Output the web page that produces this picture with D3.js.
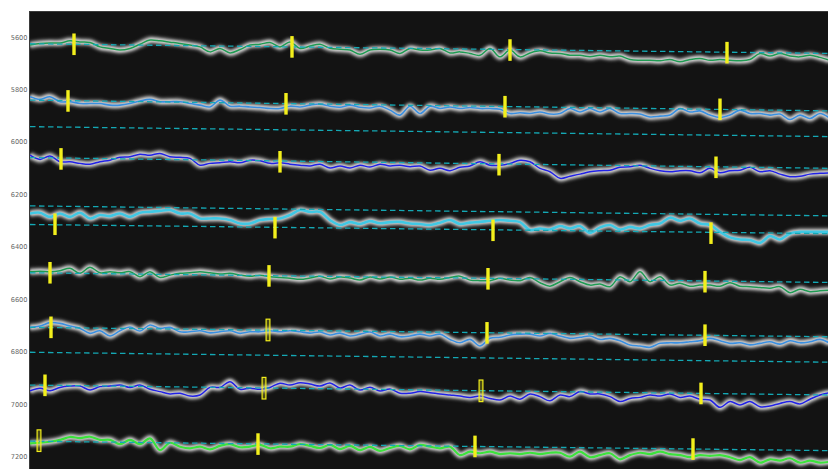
<!DOCTYPE html>
<html><head><meta charset="utf-8">
<script src="https://cdn.jsdelivr.net/npm/d3@7"></script>
<style>html,body{margin:0;padding:0;background:#fff;} svg{display:block;}</style>
</head><body>
<svg id="chart" width="828" height="469"></svg>
<script>
// ---- data ----
const columns = d3.range(0, 801, 10); // image columns sampled
const trace1 = [5631,5625,5623,5623,5615,5619,5621,5638,5644,5650,5644,5628,5612,5615,5620,5625,5631,5638,5657,5644,5661,5648,5631,5628,5621,5638,5619,5644,5635,5628,5643,5647,5650,5666,5650,5647,5650,5663,5644,5650,5650,5644,5661,5657,5663,5670,5644,5676,5650,5676,5661,5653,5661,5663,5670,5670,5676,5670,5676,5673,5686,5689,5689,5691,5686,5695,5686,5682,5689,5686,5689,5691,5686,5663,5673,5663,5673,5676,5670,5678,5689];
const trace2 = [5828,5838,5828,5847,5847,5854,5854,5854,5860,5860,5854,5844,5838,5847,5847,5847,5854,5860,5867,5841,5864,5864,5867,5869,5873,5873,5864,5867,5860,5856,5864,5868,5860,5868,5871,5864,5879,5898,5864,5892,5864,5873,5867,5873,5869,5873,5873,5876,5892,5889,5892,5886,5894,5892,5873,5886,5873,5886,5873,5892,5892,5894,5905,5902,5898,5873,5886,5882,5898,5907,5898,5879,5892,5892,5898,5894,5915,5898,5911,5892,5911];
const trace3 = [6051,6067,6054,6076,6076,6082,6085,6076,6070,6059,6057,6047,6051,6044,6057,6059,6063,6089,6082,6080,6076,6080,6070,6072,6082,6080,6085,6089,6092,6085,6100,6092,6100,6089,6096,6085,6092,6089,6095,6092,6108,6101,6110,6097,6092,6076,6089,6089,6082,6070,6076,6101,6114,6139,6131,6123,6114,6110,6108,6097,6095,6089,6101,6110,6114,6110,6110,6118,6101,6118,6110,6108,6097,6114,6110,6123,6133,6131,6123,6120,6118];
const trace4 = [6273,6270,6286,6273,6286,6270,6292,6279,6283,6273,6286,6270,6267,6263,6260,6273,6273,6292,6292,6292,6298,6311,6311,6298,6294,6292,6279,6260,6267,6267,6298,6317,6306,6313,6302,6310,6306,6305,6311,6313,6317,6308,6298,6313,6308,6305,6301,6298,6301,6306,6336,6330,6334,6321,6330,6321,6347,6326,6317,6334,6324,6330,6317,6311,6289,6301,6292,6311,6317,6343,6364,6372,6374,6385,6359,6372,6349,6343,6343,6343,6343];
const trace5 = [6495,6493,6495,6491,6482,6501,6478,6499,6495,6499,6495,6514,6495,6517,6508,6501,6499,6495,6499,6504,6501,6508,6512,6508,6514,6517,6520,6524,6519,6512,6523,6515,6519,6527,6515,6523,6515,6524,6520,6527,6520,6524,6517,6512,6527,6529,6529,6520,6527,6529,6517,6537,6550,6533,6517,6533,6546,6542,6552,6514,6533,6495,6533,6514,6546,6539,6550,6546,6546,6550,6537,6550,6552,6555,6558,6552,6575,6562,6571,6568,6565];
const trace6 = [6707,6702,6689,6692,6702,6711,6730,6720,6740,6720,6706,6721,6698,6711,6707,6724,6724,6720,6728,6724,6720,6730,6724,6724,6720,6724,6720,6724,6729,6725,6736,6729,6740,6733,6725,6740,6733,6743,6740,6733,6740,6733,6753,6766,6753,6778,6749,6745,6736,6733,6733,6740,6730,6740,6749,6745,6740,6753,6749,6758,6774,6778,6783,6768,6766,6766,6762,6758,6749,6758,6768,6766,6774,6768,6762,6771,6758,6766,6762,6753,6768];
const trace7 = [6949,6939,6949,6936,6931,6931,6946,6933,6931,6927,6936,6927,6943,6952,6961,6958,6969,6965,6936,6936,6914,6943,6939,6943,6936,6920,6927,6918,6923,6931,6919,6938,6927,6946,6935,6950,6942,6958,6958,6952,6956,6961,6965,6969,6974,6969,6978,6984,6969,6981,6961,6971,6987,6965,6971,6952,6961,6961,6971,6990,6978,6974,6965,6969,6961,6974,6969,6981,6984,7012,6990,7003,6990,7010,7007,6997,6990,6999,6981,6965,6956];
const trace8 = [7149,7147,7143,7136,7125,7129,7124,7136,7136,7152,7136,7152,7130,7175,7147,7162,7168,7162,7172,7159,7152,7164,7162,7155,7168,7162,7162,7152,7159,7167,7155,7171,7159,7175,7163,7178,7167,7159,7172,7155,7162,7168,7162,7194,7181,7187,7181,7190,7187,7190,7185,7190,7185,7185,7200,7181,7202,7194,7187,7210,7194,7185,7190,7181,7190,7194,7202,7194,7197,7194,7202,7213,7202,7223,7210,7215,7206,7223,7215,7223,7219];
const traces = [trace1, trace2, trace3, trace4, trace5, trace6, trace7, trace8];

// reference (dashed) rows at column 0 and column 800
const refStart = [5626, 5841, 5942, 6060, 6244, 6315, 6499, 6707, 6802, 6927, 7141];
const refEnd   = [5663, 5882, 5980, 6101, 6282, 6350, 6536, 6743, 6840, 6965, 7177];
const refCols  = [0, 800];

// yellow markers: columns and rows per trace
const markerCols = [[44,262,480,697],[38,256,475,690],[31,250,469,686],[25,245,463,681],[20,239,458,675],[21,238,457,675],[15,234,451,671],[9,228,445,663]];
const markerRows = [[5628,5638,5650,5660],[5844,5855,5866,5876],[6065,6076,6087,6097],[6314,6327,6337,6348],[6499,6511,6522,6533],[6707,6717,6728,6737],[6928,6939,6949,6959],[7139,7152,7161,7171]];
const markerOpen = [[0,0,0,0],[0,0,0,0],[0,0,0,0],[0,0,0,0],[0,0,0,0],[0,1,0,0],[0,1,1,0],[1,0,0,0]];

const yTicks = [5600, 5800, 6000, 6200, 6400, 6600, 6800, 7000, 7200];

// ---- styles ----
const traceColors = ["#1f9a52", "#3a8fe0", "#2121e6", "#40c8e4", "#1f9a52", "#3a8fe0", "#2121e6", "#3ce23c"];
const traceWidths = [1.5, 1.6, 1.5, 2.6, 1.5, 1.6, 1.5, 2.2];

// ---- chart ----
const svg = d3.select("#chart");
const W = 828, H = 469;
const plotLeft = 30, plotTop = 12;

const x = d3.scaleLinear().domain([0, 800]).range([30, 830]);
const y = d3.scaleLinear().domain([5505, 7247]).range([12, 469]);

const defs = svg.append("defs");
defs.append("clipPath").attr("id", "clip").append("rect")
  .attr("x", plotLeft).attr("y", plotTop).attr("width", W - plotLeft + 10).attr("height", H - plotTop + 10);
const f1 = defs.append("filter").attr("id", "glowWide").attr("filterUnits", "userSpaceOnUse")
  .attr("x", 0).attr("y", 0).attr("width", W + 20).attr("height", H + 20);
f1.append("feGaussianBlur").attr("stdDeviation", 1.8);
const f2 = defs.append("filter").attr("id", "glowCore").attr("filterUnits", "userSpaceOnUse")
  .attr("x", 0).attr("y", 0).attr("width", W + 20).attr("height", H + 20);
f2.append("feGaussianBlur").attr("stdDeviation", 0.9);

const plot = svg.append("g").attr("clip-path", "url(#clip)");
plot.append("rect").attr("x", plotLeft).attr("y", plotTop).attr("width", W - plotLeft + 10).attr("height", H - plotTop + 10)
  .attr("fill", "#131313");

const line = d3.line().x((d, i) => x(columns[i])).y(d => y(d)).curve(d3.curveCatmullRom.alpha(0.5));

// glow (bright spectral trace in image)
const glowG = plot.append("g");
traces.forEach(t => {
  glowG.append("path").attr("d", line(t)).attr("fill", "none")
    .attr("stroke", "#8c8c8c").attr("stroke-width", 8).attr("stroke-opacity", 0.85)
    .attr("filter", "url(#glowWide)");
  glowG.append("path").attr("d", line(t)).attr("fill", "none")
    .attr("stroke", "#dedede").attr("stroke-width", 4.2).attr("stroke-opacity", 0.9)
    .attr("filter", "url(#glowCore)");
});

// fitted traces
traces.forEach((t, k) => {
  plot.append("path").attr("d", line(t)).attr("fill", "none")
    .attr("stroke", traceColors[k]).attr("stroke-width", traceWidths[k])
    .attr("stroke-linejoin", "round");
});

// dashed reference lines
refStart.forEach((s, k) => {
  plot.append("path")
    .attr("d", d3.line().x(d => x(d[0])).y(d => y(d[1]))([[refCols[0], s], [refCols[1], refEnd[k]]]))
    .attr("fill", "none")
    .attr("stroke", "#14a8b4").attr("stroke-width", 1.3)
    .attr("stroke-dasharray", "5.5,3.5");
});

// markers
markerCols.forEach((cols, k) => {
  cols.forEach((c, j) => {
    const cx = x(c), cy = y(markerRows[k][j]);
    const open = markerOpen[k][j] === 1;
    plot.append("rect")
      .attr("x", cx - (open ? 1.9 : 1.7)).attr("y", cy - 10.8)
      .attr("width", open ? 3.8 : 3.4).attr("height", 21.6)
      .attr("fill", "#f3ef1c").attr("fill-opacity", open ? 0.25 : 1)
      .attr("stroke", open ? "#f3ef1c" : "none")
      .attr("stroke-width", open ? 1.2 : 0);
  });
});

// frame
svg.append("line").attr("x1", plotLeft).attr("x2", W).attr("y1", plotTop - 0.5).attr("y2", plotTop - 0.5)
  .attr("stroke", "#3a3a3a").attr("stroke-width", 1);
svg.append("line").attr("x1", plotLeft - 0.5).attr("x2", plotLeft - 0.5).attr("y1", plotTop - 1).attr("y2", H)
  .attr("stroke", "#3a3a3a").attr("stroke-width", 1);

// y axis
const yAxis = d3.axisLeft(y).tickValues(yTicks).tickSize(0).tickPadding(2.5).tickFormat(d3.format("d"));
const ag = svg.append("g").attr("transform", `translate(${plotLeft},0)`).call(yAxis);
ag.select(".domain").remove();
ag.selectAll("text").attr("font-family", "DejaVu Sans, sans-serif").attr("font-size", "6.6px").attr("fill", "#666");
</script>
</body></html>
